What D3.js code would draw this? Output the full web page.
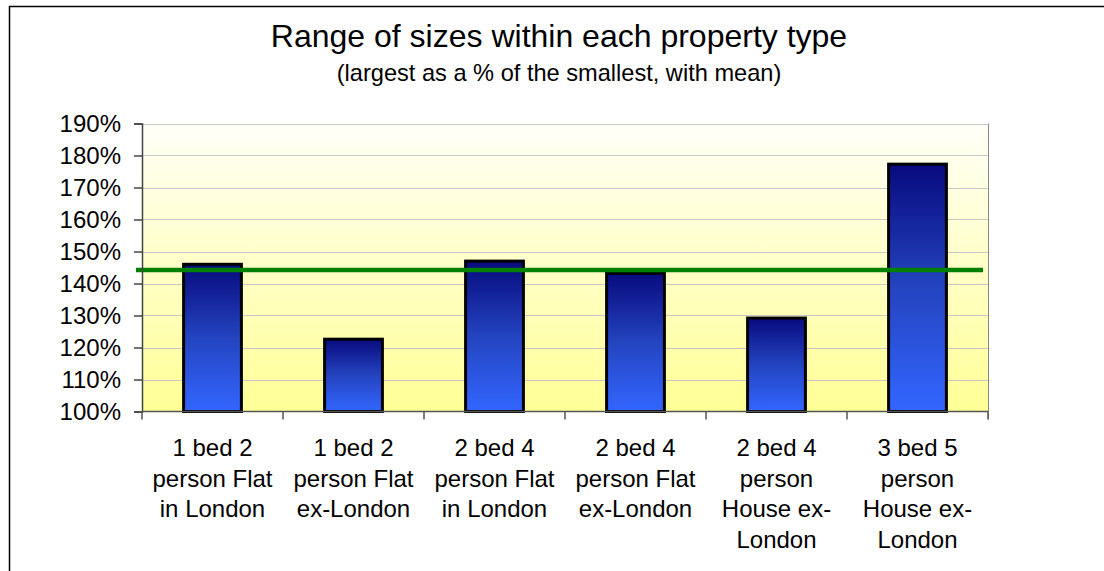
<!DOCTYPE html>
<html>
<head>
<meta charset="utf-8">
<script src="https://cdn.jsdelivr.net/npm/d3@7"></script>
<style>
  body { margin: 0; background: #fff; }
  text { font-family: "Liberation Sans", Arial, sans-serif; fill: #000; }
</style>
</head>
<body>
<svg id="chart" width="1104" height="571"></svg>
<script>
// category labels, already broken into lines like the original
const categories = [
  ['1 bed 2', 'person Flat', 'in London'],
  ['1 bed 2', 'person Flat', 'ex-London'],
  ['2 bed 4', 'person Flat', 'in London'],
  ['2 bed 4', 'person Flat', 'ex-London'],
  ['2 bed 4', 'person', 'House ex-', 'London'],
  ['3 bed 5', 'person', 'House ex-', 'London']
];
const values = [1.46, 1.226, 1.47, 1.432, 1.292, 1.773];
const meanValue = 1.442;
const yTicks = [1.0, 1.1, 1.2, 1.3, 1.4, 1.5, 1.6, 1.7, 1.8, 1.9];

const titleText = 'Range of sizes within each property type';
const subtitleText = '(largest as a % of the smallest, with mean)';

const svg = d3.select('#chart');
const m = { left: 142, right: 988, top: 123.5, bottom: 411.5 };

const x = d3.scaleBand()
  .domain(d3.range(categories.length))
  .range([m.left, m.right])
  .paddingInner(0.59)
  .paddingOuter(0.295);
const band = d3.scaleBand().domain(d3.range(categories.length)).range([m.left, m.right]);
const y = d3.scaleLinear().domain([1.0, 1.9]).range([m.bottom, m.top]);

const defs = svg.append('defs');
const bg = defs.append('linearGradient').attr('id', 'bg')
  .attr('x1', 0).attr('y1', 0).attr('x2', 0).attr('y2', 1);
bg.append('stop').attr('offset', '0%').attr('stop-color', '#fffff8');
bg.append('stop').attr('offset', '100%').attr('stop-color', '#ffff96');

const barGrad = defs.append('linearGradient').attr('id', 'barGrad')
  .attr('x1', 0).attr('y1', 0).attr('x2', 0).attr('y2', 1);
barGrad.append('stop').attr('offset', '0%').attr('stop-color', '#080a7e');
barGrad.append('stop').attr('offset', '50%').attr('stop-color', '#2444c0');
barGrad.append('stop').attr('offset', '100%').attr('stop-color', '#3366ff');

// outer chart frame (runs off the right/bottom of the picture)
svg.append('rect')
  .attr('x', 9.5).attr('y', 6.5)
  .attr('width', 1200).attr('height', 700)
  .attr('fill', 'none').attr('stroke', '#000').attr('stroke-width', 1.5);

svg.append('text')
  .attr('x', 559).attr('y', 47)
  .attr('text-anchor', 'middle')
  .style('font-size', '32px')
  .text(titleText);
svg.append('text')
  .attr('x', 559).attr('y', 81)
  .attr('text-anchor', 'middle')
  .style('font-size', '23.6px')
  .text(subtitleText);

// plot background
svg.append('rect')
  .attr('x', m.left).attr('y', m.top)
  .attr('width', m.right - m.left).attr('height', m.bottom - m.top)
  .attr('fill', 'url(#bg)');

// gridlines
svg.append('g')
  .selectAll('line')
  .data(yTicks.slice(1))
  .join('line')
  .attr('x1', m.left).attr('x2', m.right)
  .attr('y1', d => Math.round(y(d)) + 0.5).attr('y2', d => Math.round(y(d)) + 0.5)
  .attr('stroke', '#c8c8c8').attr('stroke-width', 1);

// right edge of plot
svg.append('line')
  .attr('x1', m.right + 0.5).attr('x2', m.right + 0.5)
  .attr('y1', m.top).attr('y2', m.bottom + 8)
  .attr('stroke', '#888');

// bars
svg.append('g')
  .selectAll('rect')
  .data(values)
  .join('rect')
  .attr('x', (d, i) => x(i))
  .attr('y', d => y(d))
  .attr('width', x.bandwidth())
  .attr('height', d => y(1.0) - y(d))
  .attr('fill', 'url(#barGrad)')
  .attr('stroke', '#000')
  .attr('stroke-width', 3);

// mean line
svg.append('line')
  .attr('x1', m.left - 6).attr('x2', m.right - 5)
  .attr('y1', y(meanValue)).attr('y2', y(meanValue))
  .attr('stroke', '#008000').attr('stroke-width', 4.5);

// y axis
const yAxis = svg.append('g')
  .attr('transform', `translate(${m.left},0)`)
  .call(d3.axisLeft(y).tickValues(yTicks).tickFormat(d3.format('.0%')).tickSize(8).tickPadding(13));
yAxis.select('.domain').attr('stroke', '#444').attr('stroke-width', 1.5);
yAxis.selectAll('.tick line').attr('stroke', '#444').attr('stroke-width', 1.5);
yAxis.selectAll('text')
  .style('font-family', '"Liberation Sans", Arial, sans-serif')
  .style('font-size', '24px')
  .attr('fill', '#000');

// x axis: ticks at category boundaries
const xAxis = svg.append('g');
xAxis.append('line')
  .attr('x1', m.left).attr('x2', m.right)
  .attr('y1', m.bottom).attr('y2', m.bottom)
  .attr('stroke', '#555').attr('stroke-width', 1.5);
xAxis.selectAll('line.tick')
  .data(d3.range(categories.length + 1))
  .join('line')
  .attr('class', 'tick')
  .attr('x1', i => i < categories.length ? band(i) : m.right)
  .attr('x2', i => i < categories.length ? band(i) : m.right)
  .attr('y1', m.bottom).attr('y2', m.bottom + 8)
  .attr('stroke', '#555').attr('stroke-width', 1.5);

const labels = xAxis.selectAll('text')
  .data(categories)
  .join('text')
  .attr('text-anchor', 'middle')
  .style('font-size', '24px')
  .attr('transform', (d, i) => `translate(${band(i) + band.bandwidth() / 2},456)`);
labels.selectAll('tspan')
  .data(d => d)
  .join('tspan')
  .attr('x', 0)
  .attr('y', (d, j) => j * 30.7)
  .text(d => d);
</script>
</body>
</html>
